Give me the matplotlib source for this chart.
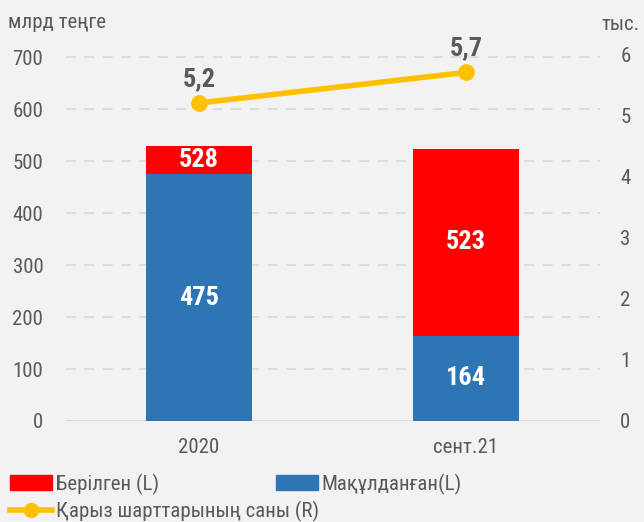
import matplotlib
matplotlib.use("Agg")
import matplotlib.pyplot as plt
from matplotlib.lines import Line2D
from matplotlib.patches import Patch

plt.rcParams['font.family'] = ['Roboto Condensed', 'Roboto', 'DejaVu Sans']

# data
categories = ['2020', 'сент.21']
approved = [475, 164]          # Мақұлданған (L)
issued_total = [528, 523]      # Берілген (L), bar top
contracts = [5.2, 5.7]         # Қарыз шарттарының саны (R), мың
contract_labels = ['5,2', '5,7']

red = '#ff0000'
blue = '#2e75b6'
yellow = '#ffc000'
txt = '#595959'
bg = '#f2f2f2'

fig = plt.figure(figsize=(6.44, 5.22), dpi=100, facecolor=bg)
ax = fig.add_axes([65.5 / 644, 1 - 421 / 522, 534 / 644, 381 / 522])
ax.set_facecolor(bg)
ax2 = ax.twinx()

x = range(len(categories))
issued_part = [t - a for t, a in zip(issued_total, approved)]
ax.bar(x, approved, width=0.4, color=blue, zorder=3)
ax.bar(x, issued_part, width=0.4, bottom=approved, color=red, zorder=3)

for i in x:
    ax.text(i, approved[i] / 2, str(approved[i]), ha='center', va='center',
            color='white', fontsize=19, fontweight='bold', zorder=4)
    ax.text(i, (approved[i] + issued_total[i]) / 2, str(issued_total[i]),
            ha='center', va='center', color='white', fontsize=19,
            fontweight='bold', zorder=4)

ax.set_xlim(-0.5, 1.5)
ax.set_ylim(0, 732.7)
ax.set_yticks(range(0, 701, 100))
ax.yaxis.grid(True, color='#d9d9d9', linestyle=(0, (6, 5)), linewidth=1.2, zorder=0)
ax.set_axisbelow(True)
ax.set_xticks(list(x))
ax.set_xticklabels(categories)
ax.tick_params(axis='both', length=0, labelsize=15, colors=txt)
ax.tick_params(axis='y', pad=16)
ax.tick_params(axis='x', pad=12)
for s in ax.spines.values():
    s.set_visible(False)
ax.axhline(0, color='#d9d9d9', linewidth=1.2, zorder=1)

ax2.plot(list(x), contracts, color=yellow, linewidth=4, marker='o',
         markersize=11, zorder=5)
for i in x:
    ax2.text(i, contracts[i] + 0.2, contract_labels[i], ha='center', va='bottom',
             color=txt, fontsize=19, fontweight='bold')
ax2.set_ylim(0, 6.23)
ax2.set_yticks(range(0, 7))
ax2.tick_params(axis='y', length=0, labelsize=15, colors=txt, pad=15)
for s in ax2.spines.values():
    s.set_visible(False)

fig.text(8 / 644, 1 - 22 / 522, 'млрд теңге', fontsize=15, color=txt, va='center')
fig.text(640 / 644, 1 - 25 / 522, 'тыс.', fontsize=15, color=txt, va='center', ha='right')

h1 = Patch(color=red)
h2 = Patch(color=blue)
h3 = Line2D([], [], color=yellow, linewidth=4, marker='o', markersize=10)
kw = dict(frameon=False, fontsize=15, labelcolor=txt, handlelength=2.0,
          handletextpad=0.2, borderaxespad=0, borderpad=0)
fig.legend([h1], ['Берілген (L)'], loc='center left',
           bbox_to_anchor=(10 / 644, 1 - 484 / 522), **kw)
fig.legend([h2], ['Мақұлданған(L)'], loc='center left',
           bbox_to_anchor=(276 / 644, 1 - 484 / 522), **kw)
fig.legend([h3], ['Қарыз шарттарының саны (R)'], loc='center left',
           bbox_to_anchor=(10 / 644, 1 - 511 / 522), **kw)

fig.savefig('out.png', dpi=100, facecolor=bg)
